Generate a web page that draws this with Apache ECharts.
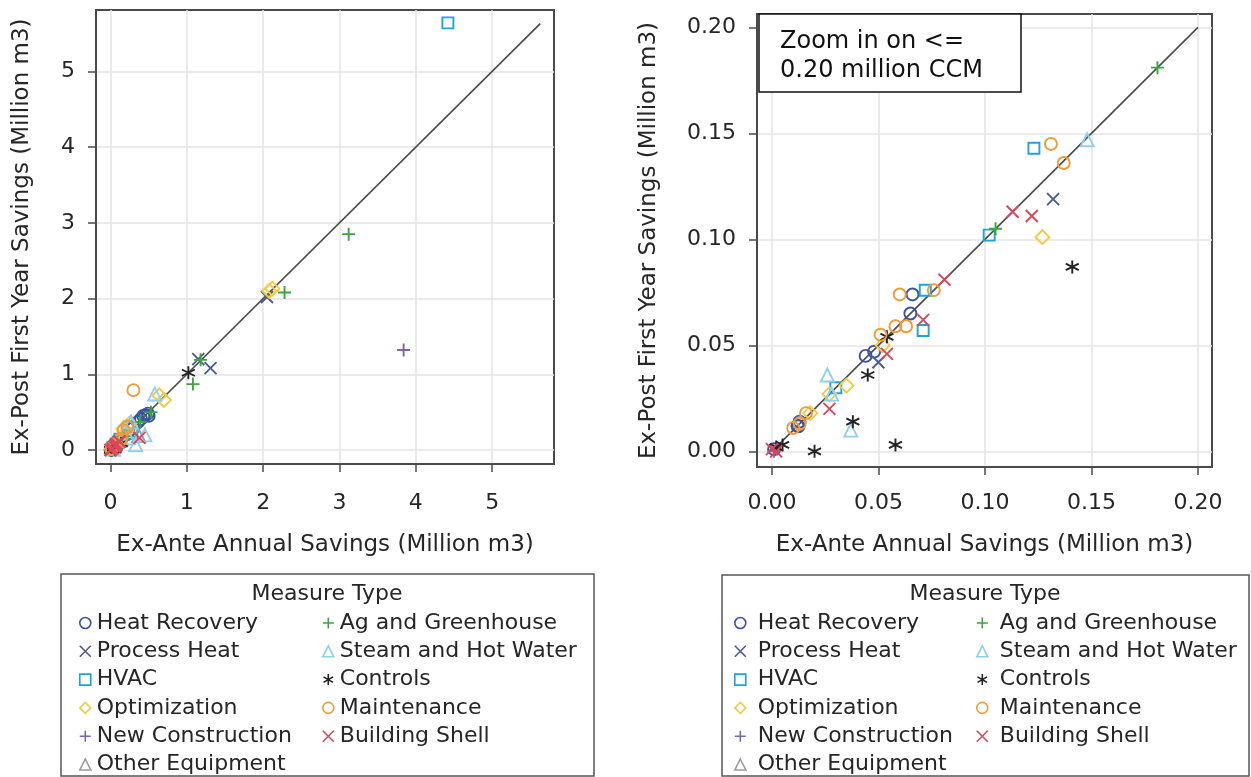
<!DOCTYPE html>
<html><head><meta charset="utf-8">
<script src="https://cdn.jsdelivr.net/npm/echarts@6/dist/echarts.min.js"></script>
<style>html,body{margin:0;padding:0;background:#fff}#c{width:1251px;height:777px}</style>
</head><body><div id="c"></div>
<script>
// ---- Data (million m3): [ex-ante annual, ex-post first year] ----
const categories = ['Heat Recovery','Process Heat','HVAC','Optimization','New Construction','Other Equipment',
  'Ag and Greenhouse','Steam and Hot Water','Controls','Maintenance','Building Shell'];

const heatRecovery = [[0.001,0.001],[0.012,0.012],[0.013,0.014],[0.0125,0.0118],[0.044,0.045],[0.048,0.047],
  [0.065,0.065],[0.066,0.074],[0.22,0.21],[0.30,0.29],[0.36,0.37],[0.40,0.41],[0.43,0.45],[0.46,0.46],[0.49,0.48],[0.50,0.45]];
const processHeat = [[0.050,0.042],[0.132,0.119],[1.15,1.20],[1.31,1.08],[2.05,2.02]];
const hvac = [[0.030,0.030],[0.071,0.057],[0.072,0.076],[0.102,0.102],[0.123,0.143],[0.28,0.22],[0.24,0.30],[4.42,5.64]];
const optimization = [[0.018,0.018],[0.027,0.027],[0.035,0.031],[0.052,0.050],[0.127,0.101],
  [0.21,0.24],[0.17,0.28],[0.25,0.35],[0.64,0.72],[0.70,0.66],[2.08,2.10],[2.12,2.13]];
const newConstruction = [[0.001,0.000],[3.84,1.32]];
const otherEquipment = [[0.37,0.19]];
const agGreenhouse = [[0.105,0.105],[0.181,0.181],[0.39,0.37],[0.53,0.50],[1.08,0.87],[1.18,1.19],[2.28,2.08],[3.12,2.85]];
const steamHotWater = [[0.026,0.036],[0.028,0.027],[0.037,0.010],[0.148,0.147],[0.24,0.16],[0.27,0.37],[0.33,0.07],[0.45,0.20],[0.58,0.74]];
const controls = [[0.002,0.002],[0.005,0.003],[0.020,0.000],[0.038,0.014],[0.045,0.036],[0.054,0.054],[0.058,0.003],[0.141,0.087],[1.02,1.02]];
const maintenance = [[0.010,0.011],[0.013,0.013],[0.016,0.018],[0.051,0.055],[0.058,0.059],[0.063,0.059],[0.060,0.074],
  [0.076,0.076],[0.131,0.145],[0.137,0.136],[0.17,0.26],[0.22,0.31],[0.30,0.79]];
const buildingShell = [[0.000,0.001],[0.002,0.000],[0.027,0.020],[0.054,0.046],[0.071,0.062],[0.081,0.081],[0.113,0.113],[0.122,0.111],[0.38,0.16]];

const seriesValues = [heatRecovery, processHeat, hvac, optimization, newConstruction, otherEquipment,
  agGreenhouse, steamHotWater, controls, maintenance, buildingShell];

const leftTicks = [0,1,2,3,4,5];
const rightTicks = [0,0.05,0.10,0.15,0.20];
const refLineLeft = [[0,0],[5.63,5.63]];
const refLineRight = [[0,0],[0.2,0.2]];
const zoomLimit = 0.20;

// ---- Styling ----
const X_PATH = 'path://M0,0L10,10M10,0L0,10';
const PLUS_PATH = 'path://M5,0L5,10M0,5L10,5';
const STAR_PATH = 'path://M5,0L5,10M0.67,2.5L9.33,7.5M9.33,2.5L0.67,7.5';
const markers = [
  {symbol:'circle', size:12, color:'#3b52a0'},
  {symbol:X_PATH, size:12, color:'#4f5b8e'},
  {symbol:'rect', size:11, color:'#1fa3dd'},
  {symbol:'diamond', size:14, color:'#f3cb45'},
  {symbol:PLUS_PATH, size:13, color:'#8064a8'},
  {symbol:'triangle', size:13, color:'#9a9a9a'},
  {symbol:PLUS_PATH, size:13, color:'#3ca63c'},
  {symbol:'triangle', size:13, color:'#92cfee'},
  {symbol:STAR_PATH, size:13, color:'#222222'},
  {symbol:'circle', size:12, color:'#ef9b3a'},
  {symbol:X_PATH, size:12, color:'#d8475c'}
];
const FONT = 'DejaVu Sans';
const AX = '#4a4a4a';
const TXT = '#262626';

function axis(gridIndex, min, max, ticks, fmt, name, nameGap, margin) {
  return {
    gridIndex, type:'value', min, max,
    name, nameLocation:'middle', nameGap, nameMoveOverlap:false,
    nameTextStyle:{fontFamily:FONT, fontSize:23, color:TXT},
    axisLine:{show:true, onZero:false, lineStyle:{color:AX, width:2}},
    axisTick:{show:true, customValues:ticks, length:8, lineStyle:{color:AX, width:1.5}},
    axisLabel:{customValues:ticks, formatter:fmt, margin, fontFamily:FONT, fontSize:22, color:TXT},
    splitLine:{show:true, lineStyle:{color:'#e4e4e4', width:1.5}}
  };
}

const series = [];
series.push({type:'line', xAxisIndex:0, yAxisIndex:0, data:refLineLeft, symbol:'none', silent:true, z:1,
  lineStyle:{color:'#4d4d4d', width:1.7}});
series.push({type:'line', xAxisIndex:1, yAxisIndex:1, data:refLineRight, symbol:'none', silent:true, z:1,
  lineStyle:{color:'#4d4d4d', width:1.7}});
categories.forEach((name, i) => {
  const m = markers[i];
  const common = {type:'scatter', name, symbol:m.symbol, symbolSize:m.size, z:2,
    itemStyle:{color:'rgba(0,0,0,0)', borderColor:m.color, borderWidth:1.9, opacity:1}};
  series.push(Object.assign({}, common, {xAxisIndex:0, yAxisIndex:0, data:seriesValues[i]}));
  series.push(Object.assign({}, common, {xAxisIndex:1, yAxisIndex:1,
    data:seriesValues[i].filter(p => p[0] <= zoomLimit && p[1] <= zoomLimit + 0.005)}));
});

function legend(left, names, gap) {
  return {orient:'vertical', left, top:612, itemWidth:11, itemHeight:11, itemGap:6.3, data:names,
    selectedMode:false, padding:0, symbolKeepAspect:true,
    itemStyle:{borderWidth:1.6},
    textStyle:{fontFamily:FONT, fontSize:22, color:TXT, lineHeight:22, padding:[0,0,0,gap]}};
}

const option = {
  animation:false,
  backgroundColor:'#fff',
  grid:[
    {left:96, top:10, width:458, height:454, show:true, borderColor:AX, borderWidth:2, outerBoundsMode:'none', containLabel:false},
    {left:757, top:14, width:455, height:453, show:true, borderColor:AX, borderWidth:2, outerBoundsMode:'none', containLabel:false}
  ],
  xAxis:[
    axis(0, -0.19, 5.81, leftTicks, v => String(v), 'Ex-Ante Annual Savings (Million m3)', 70, 28),
    axis(1, -0.007, 0.2066, rightTicks, v => v.toFixed(2), 'Ex-Ante Annual Savings (Million m3)', 67, 25)
  ],
  yAxis:[
    axis(0, -0.185, 5.81, leftTicks, v => String(v), 'Ex-Post First Year Savings (Million m3)', 62, 21),
    axis(1, -0.0074, 0.2063, rightTicks, v => v.toFixed(2), 'Ex-Post First Year Savings (Million m3)', 96, 21)
  ],
  legend:[
    legend(79, categories.slice(0,6), 1), legend(322, categories.slice(6), 1),
    legend(734, categories.slice(0,6), 7), legend(976, categories.slice(6), 7)
  ],
  graphic:[
    {type:'rect', shape:{x:61, y:574, width:533, height:202}, style:{fill:'none', stroke:'#555', lineWidth:1.5}, z:-1},
    {type:'rect', shape:{x:722, y:575, width:527, height:201}, style:{fill:'none', stroke:'#555', lineWidth:1.5}, z:-1},
    {type:'text', x:327, y:594, style:{text:'Measure Type', font:'22px "DejaVu Sans"', fill:TXT, textAlign:'center', textVerticalAlign:'middle'}},
    {type:'text', x:985, y:594, style:{text:'Measure Type', font:'22px "DejaVu Sans"', fill:TXT, textAlign:'center', textVerticalAlign:'middle'}},
    {type:'rect', shape:{x:759, y:14, width:262, height:78}, style:{fill:'#fff', stroke:'#111', lineWidth:1.5}, z:50},
    {type:'text', x:780, y:42, z:51, style:{text:'Zoom in on <=', font:'24px "DejaVu Sans"', fill:'#111', textVerticalAlign:'middle'}},
    {type:'text', x:780, y:71, z:51, style:{text:'0.20 million CCM', font:'24px "DejaVu Sans"', fill:'#111', textVerticalAlign:'middle'}}
  ],
  series
};
const chart = echarts.init(document.getElementById('c'), null, {renderer:'canvas'});
chart.setOption(option);
</script></body></html>
